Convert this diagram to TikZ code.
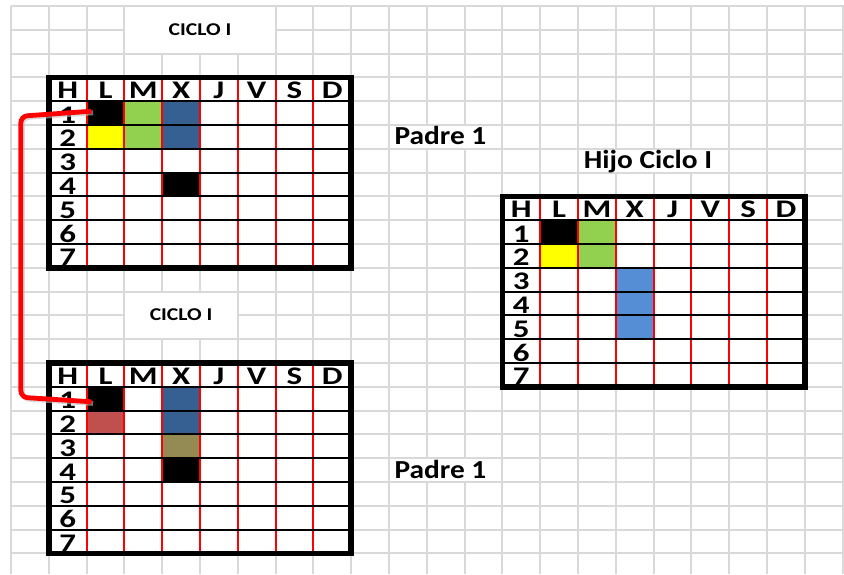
\documentclass[tikz,border=0pt]{standalone}
\usepackage{fontspec}
\usepackage{tikz}
\usepackage{xcolor}
\setmainfont{Carlito}
\newfontfamily\letratabla[FakeStretch=1.3]{Carlito}
\newfontfamily\letraetq[FakeStretch=1.13]{Carlito}
\newfontfamily\letraciclo[FakeStretch=1.2]{Carlito}
\definecolor{rejillagris}{HTML}{D9D9D9}
\definecolor{verde}{HTML}{92D050}
\definecolor{azulosc}{HTML}{376092}
\definecolor{azulclaro}{HTML}{558ED5}
\definecolor{amarillo}{HTML}{FFFF00}
\definecolor{rojizo}{HTML}{C0504D}
\definecolor{oliva}{HTML}{948A54}

% tabla de horario: #1 nombre, #2 #3 esquina, #4 celdas coloreadas
\newcommand{\tabla}[4]{%
  \begin{scope}[shift={(#2,#3)}]
    \fill[white] (0,0) rectangle (8,8);
    \foreach \cc/\ff/\cl in {#4}
      \node[celda, fill=\cl] (#1-\cc-\ff) at (\cc+0.5,\ff+0.5) {};
    \foreach \cc in {1,...,7} \draw[colroja] (\cc,0) -- (\cc,8);
    \foreach \ff in {1,...,7} \draw[filanegra] (0,\ff) -- (8,\ff);
    \foreach \cab [count=\i from 0] in {H,L,M,X,J,V,S,D}
      \node[cabecera] (#1-\cab) at (\i+0.5,0.9) {\cab};
    \foreach \ff in {1,...,7}
      \node[cabecera] (#1-h\ff) at (0.5,\ff+0.92) {\ff};
    \draw[borde] (0,0) rectangle (8,8);
  \end{scope}}

\begin{document}
\begin{tikzpicture}[x=28.35pt, y=-17.85pt,
    rejilla/.style={draw=rejillagris, line width=1.4pt},
    celda/.style={rectangle, minimum width=28.35pt, minimum height=17.85pt, inner sep=0pt, outer sep=0pt},
    colroja/.style={red, line width=1.6pt},
    filanegra/.style={black, line width=1.4pt},
    borde/.style={black, line width=4.2pt},
    cabecera/.style={font=\letratabla\bfseries\fontsize{19}{19}\selectfont, anchor=base, inner sep=0pt,
        text height=12pt, text depth=0pt},
    ciclo/.style={font=\letraciclo\bfseries\fontsize{13.5}{13}\selectfont, anchor=base, inner sep=0pt},
    etiqueta/.style={font=\letraetq\bfseries\fontsize{19.5}{19}\selectfont, anchor=base, inner sep=0pt},
    enlace/.style={red, line width=3.6pt, rounded corners=5pt}]

    \useasboundingbox (-0.291,-0.252) rectangle (22.037,23.866);

    % Hoja de calculo
    \foreach \i in {0,...,22} \draw[rejilla] (\i,0) -- (\i,23.87);
    \foreach \j in {0,...,23} \draw[rejilla] (0,\j) -- (22.04,\j);

    % Celdas combinadas y texto desbordado
    \draw[rejilla, fill=white] (3,0) rectangle (7,2);
    \draw[rejilla, fill=white] (3,12) rectangle (6,14);
    \draw[rejilla, fill=white] (10,5) rectangle (13,6);
    \draw[rejilla, fill=white] (10,19) rectangle (13,20);
    \draw[rejilla, fill=white] (15,6) rectangle (19,7);

    % Titulos
    \node[ciclo] (ciclo1) at (5,1.26) {CICLO I};
    \node[ciclo] (ciclo2) at (4.5,13.22) {CICLO I};
    \node[etiqueta, anchor=base west] (padre1) at (10.14,5.84) {Padre 1};
    \node[etiqueta, anchor=base west] (padre2) at (10.14,19.84) {Padre 1};
    \node[etiqueta] (hijo) at (16.85,6.84) {Hijo Ciclo I};

    % Padre 1 (arriba)
    \tabla{p1}{1}{3}{1/1/black, 2/1/verde, 3/1/azulosc, 1/2/amarillo, 2/2/verde, 3/2/azulosc, 3/4/black}

    % Padre 1 (abajo)
    \tabla{p2}{1}{15}{1/1/black, 3/1/azulosc, 1/2/rojizo, 3/2/azulosc, 3/3/oliva, 3/4/black}

    % Hijo Ciclo I
    \tabla{hj}{13}{8}{1/1/black, 2/1/verde, 1/2/amarillo, 2/2/verde, 3/3/azulclaro, 3/4/azulclaro, 3/5/azulclaro}

    % Enlace entre padres
    \draw[enlace, black!25, opacity=0.6, transform canvas={shift={(1.2pt,-1.2pt)}}]
        ([shift={(0.13,-0.08)}]p1-1-1.west) -- ++(-1.87,0.21) -- ++(0,11.81) -- ([shift={(0.13,0.13)}]p2-1-1.west);
    \draw[enlace] ([shift={(0.13,-0.08)}]p1-1-1.west) -- ++(-1.87,0.21) -- ++(0,11.81)
        -- ([shift={(0.13,0.13)}]p2-1-1.west);

\end{tikzpicture}
\end{document}
